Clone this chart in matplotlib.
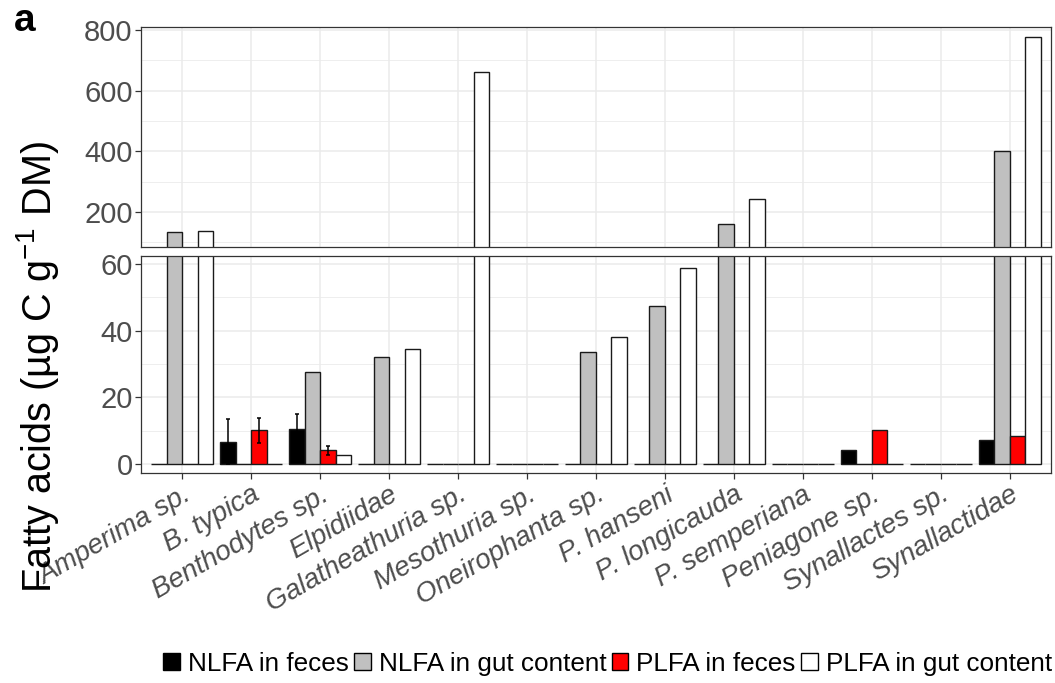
import numpy as np
import matplotlib
matplotlib.use('Agg')
import matplotlib.pyplot as plt
from matplotlib.patches import Patch

plt.rcParams['font.family'] = ['Liberation Sans', 'DejaVu Sans']
plt.rcParams['mathtext.fontset'] = 'custom'
plt.rcParams['mathtext.rm'] = 'Liberation Sans'
plt.rcParams['mathtext.it'] = 'Liberation Sans:italic'

species = ['Amperima sp.', 'B. typica', 'Benthodytes sp.', 'Elpidiidae',
           'Galatheathuria sp.', 'Mesothuria sp.', 'Oneirophanta sp.',
           'P. hanseni', 'P. longicauda', 'P. semperiana', 'Peniagone sp.',
           'Synallactes sp.', 'Synallactidae']

nlfa_feces = [0, 6.7, 10.4, 0, 0, 0, 0, 0, 0, 0, 4.2, 0, 7.1]
nlfa_gut = [133, 0, 27.7, 32.2, 0, 0, 33.6, 47.3, 160, 0, 0, 0, 400]
plfa_feces = [0, 10.1, 4.1, 0, 0, 0, 0, 0, 0, 0, 10.1, 0, 8.3]
plfa_gut = [136, 0, 2.8, 34.5, 662, 0, 38.2, 58.9, 244, 0, 0, 0, 778]

nlfa_feces_sd = [0, 6.8, 4.7, 0, 0, 0, 0, 0, 0, 0, 0, 0, 0]
plfa_feces_sd = [0, 3.7, 1.3, 0, 0, 0, 0, 0, 0, 0, 0, 0, 0]

series = [
    ('NLFA in feces', nlfa_feces, nlfa_feces_sd, 'black'),
    ('NLFA in gut content', nlfa_gut, None, '#C0C0C0'),
    ('PLFA in feces', plfa_feces, plfa_feces_sd, '#FF0000'),
    ('PLFA in gut content', plfa_gut, None, 'white'),
]

tick_col = '#4D4D4D'
border_col = '#333333'
grid_col = '#EBEBEB'


def style_axis(ax):
    ax.set_facecolor('white')
    for sp in ax.spines.values():
        sp.set_color(border_col)
        sp.set_linewidth(0.9)
    ax.set_axisbelow(True)
    ax.grid(which='major', color=grid_col, linewidth=1.1)
    ax.grid(which='minor', axis='y', color=grid_col, linewidth=0.6)
    ax.tick_params(axis='both', which='major', colors=border_col, length=4,
                   width=0.9, labelsize=21, labelcolor=tick_col, pad=2)
    ax.tick_params(axis='y', which='minor', length=0)
    ax.set_xlim(-0.6, len(species) - 0.4)


def draw_bars(ax, errors):
    x = np.arange(len(species))
    w = 0.225
    for i, (name, vals, sd, col) in enumerate(series):
        pos = x + (i - 1.5) * w
        ax.bar(pos, vals, width=w, color=col, edgecolor='#1A1A1A',
               linewidth=1.0, label=name, zorder=2)
        if errors and sd is not None:
            sd = np.array(sd)
            m = sd > 0
            ax.errorbar(pos[m], np.array(vals)[m], yerr=sd[m], fmt='none',
                        ecolor='black', elinewidth=1.1, capsize=1.1,
                        capthick=1.1, zorder=3)


fig = plt.figure(figsize=(10.55, 6.83), dpi=100)
ax_top = fig.add_axes([0.1336, 0.6388, 0.8626, 0.3212])
ax_bot = fig.add_axes([0.1336, 0.3070, 0.8626, 0.3186])

# upper part of the broken axis: large values
draw_bars(ax_top, errors=False)
style_axis(ax_top)
ax_top.set_ylim(85, 809)
ax_top.set_yticks([200, 400, 600, 800])
ax_top.set_yticks([100, 300, 500, 700], minor=True)
ax_top.set_xticks(np.arange(len(species)))
ax_top.tick_params(axis='x', length=0, labelbottom=False)

# lower part: small values with error bars
draw_bars(ax_bot, errors=True)
style_axis(ax_bot)
ax_bot.set_ylim(-2.8, 62.5)
ax_bot.set_yticks([0, 20, 40, 60])
ax_bot.set_yticks([10, 30, 50], minor=True)
ax_bot.set_xticks(np.arange(len(species)))
ax_bot.set_xticklabels(species, rotation=30, ha='right', va='top',
                       rotation_mode='anchor', style='italic', fontsize=20)

fig.text(0.036, 0.462, 'Fatty acids (µg C g$^{-1}$ DM)', rotation=90,
         ha='center', va='center', fontsize=28.5, color='black')
fig.text(0.013, 0.995, 'a', fontsize=28, fontweight='bold', ha='left', va='top')

handles = [Patch(facecolor=col, edgecolor='black', linewidth=1.0, label=name)
           for name, _, _, col in series]
fig.legend(handles=handles, loc='center right', bbox_to_anchor=(0.997, 0.028),
           ncol=4, frameon=False, fontsize=18.8, handlelength=0.65,
           handleheight=0.65, handletextpad=0.3, columnspacing=0.2,
           borderpad=0, borderaxespad=0)

fig.savefig('out.png', dpi=100, facecolor='white')
